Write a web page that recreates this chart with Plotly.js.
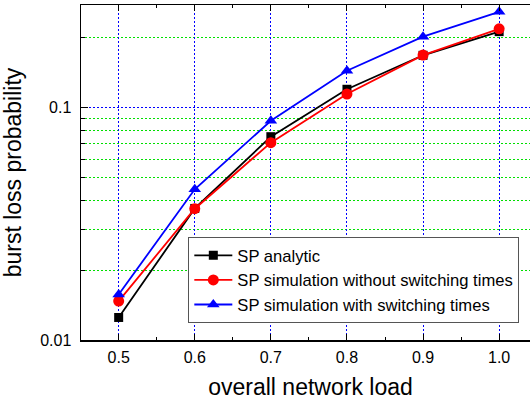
<!DOCTYPE html>
<html>
<head>
<meta charset="utf-8">
<script src="https://cdn.plot.ly/plotly-3.0.1.min.js"></script>
<style>
html, body { margin: 0; padding: 0; overflow: hidden; background: #fff; }
#chart { width: 545px; height: 402px; }
</style>
</head>
<body>
<div id="chart"></div>
<script>
// Data
const load = [0.5, 0.6, 0.7, 0.8, 0.9, 1.0];
const spAnalytic = [0.0125, 0.0368, 0.0749, 0.1198, 0.1677, 0.212];
const spSimNoSwitch = [0.0147, 0.0367, 0.0706, 0.1143, 0.1680, 0.218];
const spSimSwitch = [0.0157, 0.0445, 0.0877, 0.144, 0.2016, 0.258];
const seriesNames = ["SP analytic", "SP simulation without switching times", "SP simulation with switching times"];
const yTickVals = [0.01, 0.1];
const yTickText = ["0.01", "0.1"];
const yMinorVals = [0.02, 0.03, 0.04, 0.05, 0.06, 0.07, 0.08, 0.09, 0.2];
const xTickVals = [0.5, 0.6, 0.7, 0.8, 0.9, 1.0];
const xMinorVals = [0.55, 0.65, 0.75, 0.85, 0.95, 1.05];

const font = "Liberation Sans, Arial, sans-serif";

const traces = [
  {x: load, y: spAnalytic, name: seriesNames[0], mode: "lines+markers",
   line: {color: "#000000", width: 1.8}, marker: {symbol: "square", size: 9, color: "#000000"}},
  {x: load, y: spSimNoSwitch, name: seriesNames[1], mode: "lines+markers",
   line: {color: "#ff0000", width: 1.8}, marker: {symbol: "circle", size: 11, color: "#ff0000"}},
  {x: load, y: spSimSwitch, name: seriesNames[2], mode: "lines+markers",
   line: {color: "#0000ff", width: 1.8}, marker: {symbol: "triangle-up", size: 11, color: "#0000ff"}}
];

const layout = {
  width: 545, height: 402,
  margin: {l: 81, r: 5, t: 5, b: 62},
  paper_bgcolor: "#ffffff", plot_bgcolor: "#ffffff",
  font: {family: font, color: "#000000", size: 16},
  showlegend: true,
  legend: {
    x: 0.2338, y: 0.179, xanchor: "left", yanchor: "middle",
    bgcolor: "#ffffff", bordercolor: "#555555", borderwidth: 1,
    font: {family: font, size: 16.6, color: "#000000"},
    itemwidth: 38, tracegroupgap: 0
  },
  xaxis: {
    range: [0.4505, 1.0537],
    tickmode: "array", tickvals: xTickVals, tickformat: ".1f",
    ticks: "inside", ticklen: 6, tickwidth: 1, tickcolor: "#000000",
    showline: true, linecolor: "#000000", linewidth: 1.5, mirror: "ticks",
    showgrid: true, gridcolor: "#0000ff", gridwidth: 1, griddash: "2px,2px",
    zeroline: false,
    tickfont: {family: font, size: 16, color: "#000000"},
    ticklabelstandoff: 2,
    minor: {tickvals: xMinorVals, ticks: "inside", ticklen: 3, tickcolor: "#000000", showgrid: false},
    title: {text: "overall network load", font: {family: font, size: 23, color: "#000000"}, standoff: 14}
  },
  yaxis: {
    type: "log",
    range: [-2, -0.5591],
    tickmode: "array", tickvals: yTickVals, ticktext: yTickText,
    ticks: "inside", ticklen: 7, tickwidth: 1, tickcolor: "#000000",
    showline: true, linecolor: "#000000", linewidth: 1.5, mirror: "ticks",
    showgrid: true, gridcolor: "#0000ff", gridwidth: 1, griddash: "2px,2px",
    zeroline: false,
    tickfont: {family: font, size: 16, color: "#000000"},
    ticklabelstandoff: 5,
    minor: {tickvals: yMinorVals, ticks: "inside", ticklen: 4, tickcolor: "#000000",
            showgrid: true, gridcolor: "#00e000", gridwidth: 1, griddash: "2px,2px"},
    title: {text: "burst loss probability", font: {family: font, size: 23, color: "#000000"}, standoff: 12}
  }
};

Plotly.newPlot("chart", traces, layout, {displayModeBar: false, staticPlot: true});
</script>
</body>
</html>
